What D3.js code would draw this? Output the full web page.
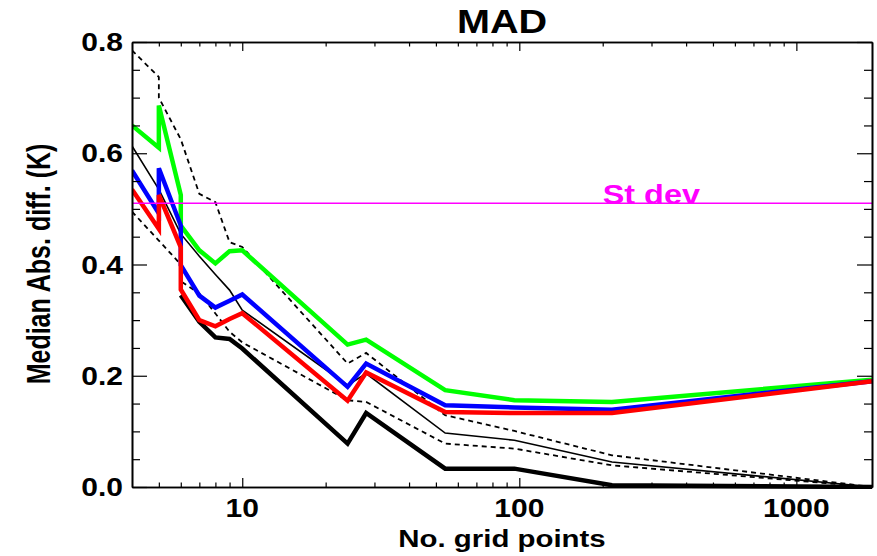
<!DOCTYPE html>
<html>
<head>
<meta charset="utf-8">
<script src="https://cdn.jsdelivr.net/npm/d3@7"></script>
<style>
  html, body { margin: 0; padding: 0; background: #fff; }
  svg { display: block; }
  text { font-family: "Liberation Sans", Arial, Helvetica, sans-serif; font-weight: bold; fill: #000; }
</style>
</head>
<body>
<svg id="chart" width="877" height="556"></svg>
<script>
// Number of grid points (some configurations share the same count)
const gridPoints = [4, 5, 5, 6, 6, 7, 8, 9, 10, 24, 28, 54, 96, 216, 1875];

// Median absolute differences (K) per configuration
const greenMAD = [0.650, 0.610, 0.686, 0.525, 0.470, 0.4255, 0.402, 0.424, 0.4255, 0.256, 0.265, 0.174, 0.156, 0.153, 0.193];
const blueMAD  = [0.569, 0.492, 0.573, 0.470, 0.399, 0.344, 0.3225, 0.335, 0.346, 0.180, 0.222, 0.147, 0.143, 0.139, 0.190];
const redMAD   = [0.535, 0.464, 0.525, 0.431, 0.355, 0.300, 0.289, 0.302, 0.3125, 0.155, 0.206, 0.135, 0.133, 0.133, 0.190];
const blackMAD = [null, null, null, null, 0.345, 0.297, 0.269, 0.266, 0.249, 0.078, 0.133, 0.033, 0.033, 0.003, 0.0];
const thinMAD  = [0.613, 0.535, 0.535, 0.455, 0.455, 0.415, 0.382, 0.354, 0.318, 0.183, 0.204, 0.097, 0.084, 0.045, 0.0];
const upperMAD = [0.785, 0.737, 0.700, 0.625, 0.625, 0.527, 0.512, 0.440, 0.4315, 0.222, 0.241, 0.129, 0.1007, 0.057, 0.0];
const lowerMAD = [0.495, 0.443, 0.443, 0.400, 0.370, 0.348, 0.312, 0.279, 0.260, 0.156, 0.153, 0.078, 0.069, 0.039, 0.0];

// Reference standard deviation and where its label starts (grid points)
const stDev = 0.51;
const stDevLabelAt = 200;

// Axis ticks
const xMajor = [10, 100, 1000];
const xMinor = [5, 6, 7, 8, 9, 20, 30, 40, 50, 60, 70, 80, 90, 200, 300, 400, 500, 600, 700, 800, 900];
const yMajor = [0.0, 0.2, 0.4, 0.6, 0.8];
const yMinor = [0.05, 0.1, 0.15, 0.25, 0.3, 0.35, 0.45, 0.5, 0.55, 0.65, 0.7, 0.75];
const yLabels = ["0.0", "0.2", "0.4", "0.6", "0.8"];
const xLabels = ["10", "100", "1000"];

const svg = d3.select("#chart");
const plotLeft = 132, plotRight = 872, plotTop = 42, plotBottom = 487;
const sx = 1.2; // horizontal stretch of the lettering

const x = d3.scaleLog().domain([4, 1875]).range([plotLeft, plotRight]);
const y = d3.scaleLinear().domain([0, 0.8]).range([plotBottom, plotTop]);

const clipId = "plotClip";
svg.append("defs").append("clipPath").attr("id", clipId)
  .append("rect").attr("x", plotLeft).attr("y", plotTop - 2)
  .attr("width", plotRight - plotLeft + 3).attr("height", plotBottom - plotTop + 4);

const plot = svg.append("g").attr("clip-path", `url(#${clipId})`);

function drawSeries(values, color, width, dash) {
  const pts = gridPoints.map((g, i) => [g, values[i]]);
  const line = d3.line()
    .defined(d => d[1] !== null)
    .x(d => x(d[0]))
    .y(d => y(d[1]));
  plot.append("path")
    .datum(pts)
    .attr("d", line)
    .attr("fill", "none")
    .attr("stroke", color)
    .attr("stroke-width", width)
    .attr("stroke-linejoin", "miter")
    .attr("stroke-dasharray", dash || null);
}

drawSeries(upperMAD, "#000", 1.8, "5,4");
drawSeries(lowerMAD, "#000", 1.8, "5,4");
drawSeries(thinMAD, "#000", 1.6);
drawSeries(blackMAD, "#000", 4.5);
drawSeries(greenMAD, "#00ff00", 4.5);
drawSeries(blueMAD, "#0000ff", 4.5);
drawSeries(redMAD, "#ff0000", 4.5);

// St dev reference line and label
svg.append("text")
  .attr("transform", `translate(${x(stDevLabelAt)},${y(stDev) + 1}) scale(${sx},1)`)
  .attr("font-size", 27)
  .style("fill", "#ff00ff")
  .text("St dev");
plot.append("line")
  .attr("x1", plotLeft).attr("x2", plotRight)
  .attr("y1", y(stDev)).attr("y2", y(stDev))
  .attr("stroke", "#ff00ff").attr("stroke-width", 1.6);

// Axes: ticks point inward on all four sides
function styleAxis(g) {
  g.selectAll("path.domain").attr("stroke", "#000").attr("stroke-width", 1.6);
  g.selectAll(".tick line").attr("stroke", "#000").attr("stroke-width", 1.2);
  g.selectAll(".tick text").remove();
}
const axes = svg.append("g");
axes.append("g").attr("transform", `translate(0,${plotBottom})`)
  .call(d3.axisBottom(x).tickValues(xMajor).tickSize(-9).tickSizeOuter(0).tickFormat("")).call(styleAxis);
axes.append("g").attr("transform", `translate(0,${plotBottom})`)
  .call(d3.axisBottom(x).tickValues(xMinor).tickSize(-4.5).tickSizeOuter(0).tickFormat("")).call(styleAxis);
axes.append("g").attr("transform", `translate(0,${plotTop})`)
  .call(d3.axisTop(x).tickValues(xMajor).tickSize(-9).tickSizeOuter(0).tickFormat("")).call(styleAxis);
axes.append("g").attr("transform", `translate(0,${plotTop})`)
  .call(d3.axisTop(x).tickValues(xMinor).tickSize(-4.5).tickSizeOuter(0).tickFormat("")).call(styleAxis);
axes.append("g").attr("transform", `translate(${plotLeft},0)`)
  .call(d3.axisLeft(y).tickValues(yMajor).tickSize(-15).tickSizeOuter(0).tickFormat("")).call(styleAxis);
axes.append("g").attr("transform", `translate(${plotLeft},0)`)
  .call(d3.axisLeft(y).tickValues(yMinor).tickSize(-8).tickSizeOuter(0).tickFormat("")).call(styleAxis);
axes.append("g").attr("transform", `translate(${plotRight},0)`)
  .call(d3.axisRight(y).tickValues(yMajor).tickSize(-15).tickSizeOuter(0).tickFormat("")).call(styleAxis);
axes.append("g").attr("transform", `translate(${plotRight},0)`)
  .call(d3.axisRight(y).tickValues(yMinor).tickSize(-8).tickSizeOuter(0).tickFormat("")).call(styleAxis);

// Tick labels
svg.append("g").selectAll("text").data(yMajor).join("text")
  .attr("transform", d => `translate(123,${y(d) + 9}) scale(${sx},1)`)
  .attr("text-anchor", "end")
  .attr("font-size", 25)
  .text((d, i) => yLabels[i]);
svg.append("g").selectAll("text").data(xMajor).join("text")
  .attr("transform", d => `translate(${x(d)},517) scale(${sx},1)`)
  .attr("text-anchor", "middle")
  .attr("font-size", 25)
  .text((d, i) => xLabels[i]);

// Title and axis titles
svg.append("text")
  .attr("transform", `translate(502,33) scale(${sx},1)`)
  .attr("text-anchor", "middle")
  .attr("font-size", 33)
  .text("MAD");
svg.append("text")
  .attr("transform", `translate(502,547) scale(${sx},1)`)
  .attr("text-anchor", "middle")
  .attr("font-size", 24.5)
  .text("No. grid points");
svg.append("text")
  .attr("transform", `translate(50,264) scale(1.35,1) rotate(-90)`)
  .attr("text-anchor", "middle")
  .attr("font-size", 25)
  .text("Median Abs. diff. (K)");
</script>
</body>
</html>
